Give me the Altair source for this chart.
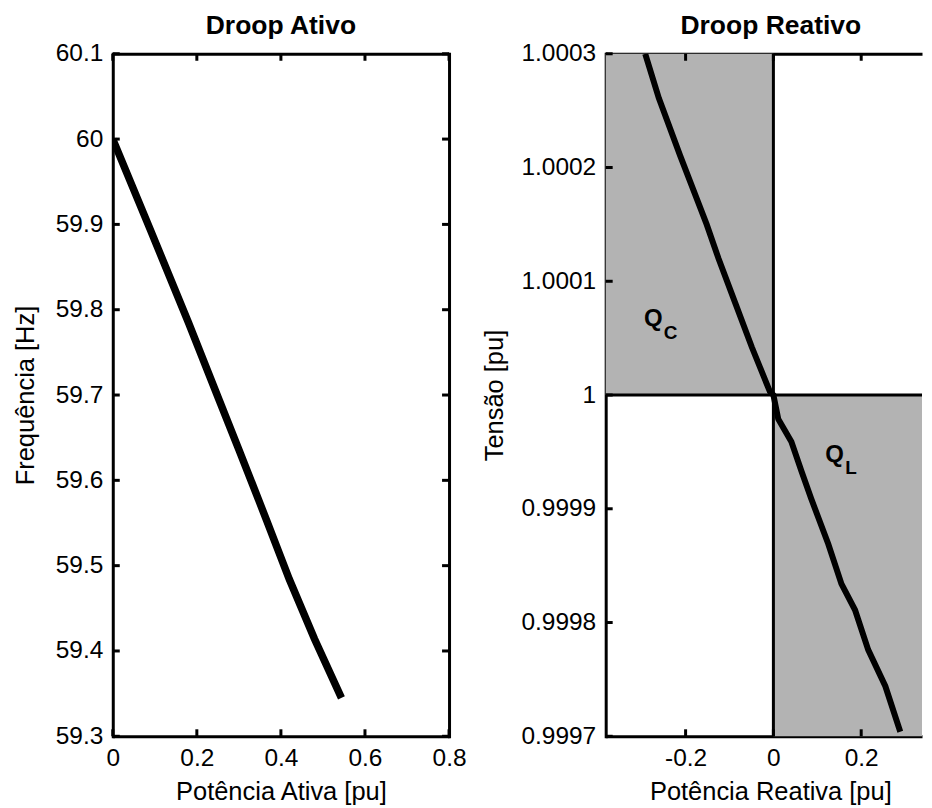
import altair as alt
import pandas as pd

FONT = "Liberation Sans"

# ---------------- data ----------------
# Droop Ativo (active power vs frequency)
p_ativa = [0.0, 0.09, 0.18, 0.254, 0.30, 0.34, 0.366, 0.42, 0.48, 0.544]
freq = [60.0, 59.893, 59.785, 59.693, 59.636, 59.586, 59.553, 59.484, 59.414, 59.345]

# Droop Reativo (reactive power vs voltage)
q_reativa = [-0.292, -0.261, -0.212, -0.170, -0.152, -0.125, -0.087, -0.049, -0.008, 0.0,
             0.011, 0.041, 0.064, 0.086, 0.125, 0.155, 0.186, 0.216, 0.255, 0.289]
tensao = [1.0003, 1.000261, 1.00021, 1.000168, 1.00015, 1.00012, 1.000081, 1.000042, 1.000003, 1.0,
          0.999979, 0.999959, 0.999933, 0.999909, 0.999869, 0.999834, 0.999811, 0.999776, 0.999744, 0.999704]

x_ticks_ativo = [0, 0.2, 0.4, 0.6, 0.8]
y_ticks_ativo = [59.3, 59.4, 59.5, 59.6, 59.7, 59.8, 59.9, 60.0, 60.1]
x_ticks_reativo = [-0.2, 0, 0.2]
y_ticks_reativo = [0.9997, 0.9998, 0.9999, 1.0, 1.0001, 1.0002, 1.0003]

x_dom_ativo = [0, 0.8]
y_dom_ativo = [59.3, 60.1]
x_dom_reativo = [-0.382, 0.3385]
y_dom_reativo = [0.9997, 1.0003]

# shaded regions (capacitive / inductive)
regiao_nome = ["Q_C", "Q_L"]
regiao_x1 = [-0.382, 0.0]
regiao_x2 = [0.0, 0.3385]
regiao_y1 = [1.0, 0.9997]
regiao_y2 = [1.0003, 1.0]

linha_x0 = [0.0]
linha_y1 = [1.0]

rotulo_texto = ["Q", "C", "Q", "L"]
rotulo_x = [-0.295, -0.25, 0.118, 0.1636]
rotulo_y = [1.000061, 1.0000495, 0.999941, 0.9999305]
rotulo_tam = [24, 19, 24, 19]

# ---------------- layout ----------------
W1, W2, H = 337, 317, 684
TK = 7  # inward tick length
LBL = "toString(datum.value)"

df_ativo = pd.DataFrame({"p": p_ativa, "f": freq})
df_reat = pd.DataFrame({"q": q_reativa, "v": tensao})
df_reg = pd.DataFrame({"n": regiao_nome, "x1": regiao_x1, "x2": regiao_x2, "y1": regiao_y1, "y2": regiao_y2})
df_lbl = pd.DataFrame({"t": rotulo_texto, "x": rotulo_x, "y": rotulo_y, "s": rotulo_tam})


def ticks_df(vals):
    return pd.DataFrame({"v": vals})


# ---------- left panel ----------
sx1 = alt.Scale(domain=x_dom_ativo, nice=False, zero=False)
sy1 = alt.Scale(domain=y_dom_ativo, nice=False, zero=False)

line1 = alt.Chart(df_ativo).mark_line(color="black", strokeWidth=7.5, clip=True).encode(
    x=alt.X("p:Q", scale=sx1, axis=alt.Axis(values=x_ticks_ativo, labelExpr=LBL, title="Potência Ativa [pu]",
                                            labelPadding=10, titlePadding=9.5, domainCap="butt")),
    y=alt.Y("f:Q", scale=sy1, axis=alt.Axis(values=y_ticks_ativo, labelExpr=LBL, title="Frequência [Hz]",
                                            labelPadding=10, titlePadding=17, domainCap="square")),
)

tb1 = alt.Chart(ticks_df(x_ticks_ativo)).mark_rule(color="black", strokeWidth=3).encode(
    x=alt.X("v:Q", scale=sx1, axis=alt.Axis(orient="top", labels=False, title=None, domainCap="butt")),
    y=alt.value(H), y2=alt.value(H - TK))
tt1 = alt.Chart(ticks_df(x_ticks_ativo)).mark_rule(color="black", strokeWidth=3).encode(
    x=alt.X("v:Q", scale=sx1, axis=None), y=alt.value(0), y2=alt.value(TK))
tl1 = alt.Chart(ticks_df(y_ticks_ativo)).mark_rule(color="black", strokeWidth=3).encode(
    y=alt.Y("v:Q", scale=sy1, axis=alt.Axis(orient="right", labels=False, title=None, domainCap="square")),
    x=alt.value(0), x2=alt.value(TK))
tr1 = alt.Chart(ticks_df(y_ticks_ativo)).mark_rule(color="black", strokeWidth=3).encode(
    y=alt.Y("v:Q", scale=sy1, axis=None), x=alt.value(W1 - TK), x2=alt.value(W1))

left = alt.layer(line1, tb1, tt1, tl1, tr1).resolve_axis(x="independent", y="independent").properties(
    width=W1, height=H,
    title=alt.TitleParams("Droop Ativo", font=FONT, fontSize=26.5, fontWeight="bold", color="black",
                          anchor="middle", offset=1))

# ---------- right panel ----------
sx2 = alt.Scale(domain=x_dom_reativo, nice=False, zero=False)
sy2 = alt.Scale(domain=y_dom_reativo, nice=False, zero=False)

rect2 = alt.Chart(df_reg).mark_rect(color="#b3b3b3").encode(
    x=alt.X("x1:Q", scale=sx2, axis=alt.Axis(values=x_ticks_reativo, labelExpr=LBL, title="Potência Reativa [pu]",
                                             labelPadding=10, titlePadding=9.5, titleX=165, domainCap="butt")),
    x2="x2:Q",
    y=alt.Y("y1:Q", scale=sy2, axis=alt.Axis(values=y_ticks_reativo, labelExpr=LBL, title="Tensão [pu]",
                                             labelPadding=10, titlePadding=13.5, domainCap="square")),
    y2="y2:Q",
)
vrule = alt.Chart(pd.DataFrame({"x": linha_x0})).mark_rule(color="black", strokeWidth=3).encode(
    x=alt.X("x:Q", scale=sx2, axis=alt.Axis(orient="top", labels=False, title=None, domainCap="butt")))
hrule = alt.Chart(pd.DataFrame({"y": linha_y1})).mark_rule(color="black", strokeWidth=3).encode(
    y=alt.Y("y:Q", scale=sy2, axis=None))
line2 = alt.Chart(df_reat).mark_line(color="black", strokeWidth=6, clip=True).encode(
    x=alt.X("q:Q", scale=sx2, axis=None), y=alt.Y("v:Q", scale=sy2, axis=None))
txt2 = alt.Chart(df_lbl).mark_text(font=FONT, fontWeight="bold", color="black", align="left",
                                   baseline="alphabetic").encode(
    x=alt.X("x:Q", scale=sx2, axis=None), y=alt.Y("y:Q", scale=sy2, axis=None),
    text="t:N", size=alt.Size("s:Q", scale=None, legend=None))
tb2 = alt.Chart(ticks_df(x_ticks_reativo)).mark_rule(color="black", strokeWidth=3).encode(
    x=alt.X("v:Q", scale=sx2, axis=None), y=alt.value(H), y2=alt.value(H - TK))
tt2 = alt.Chart(ticks_df(x_ticks_reativo)).mark_rule(color="black", strokeWidth=3).encode(
    x=alt.X("v:Q", scale=sx2, axis=None), y=alt.value(0), y2=alt.value(TK))
tl2 = alt.Chart(ticks_df(y_ticks_reativo)).mark_rule(color="black", strokeWidth=3).encode(
    y=alt.Y("v:Q", scale=sy2, axis=None), x=alt.value(0), x2=alt.value(TK))

right = alt.layer(rect2, vrule, hrule, line2, txt2, tb2, tt2, tl2).resolve_axis(
    x="independent", y="independent").properties(
    width=W2, height=H,
    title=alt.TitleParams("Droop Reativo", font=FONT, fontSize=26.5, fontWeight="bold", color="black",
                          anchor="middle", offset=1, dx=7))

chart = alt.hconcat(left, right, spacing=157, bounds="flush").properties(
    padding={"left": 5, "top": 4, "right": 0, "bottom": 0}
).configure_view(stroke=None).configure_axis(
    labelFont=FONT, titleFont=FONT, labelFontSize=24.5, titleFontSize=25.5, titleFontWeight="normal",
    labelColor="black", titleColor="black", grid=False, ticks=False, domainColor="black", domainWidth=3,
    labelOverlap=False, labelFlush=False,
)

chart.save("out.html", embed_options={"renderer": "svg", "actions": False})
